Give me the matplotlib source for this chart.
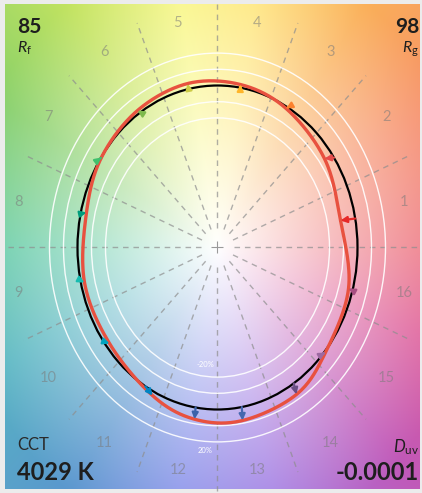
import numpy as np
import matplotlib
matplotlib.use('Agg')
import matplotlib.pyplot as plt
from matplotlib.patches import Ellipse, FancyArrowPatch

# ---------------- data ----------------
hue_bins = list(range(1, 17))
ref_hue_angle_deg = [10.3, 33.7, 59.8, 80.6, 101.9, 123.4, 146.4, 168.0,
                     191.7, 215.4, 239.0, 261.0, 280.0, 303.0, 319.0, 344.6]
test_x = [0.879, 0.764, 0.490, 0.164, -0.214, -0.571, -0.829, -0.936,
          -0.950, -0.771, -0.464, -0.164, 0.179, 0.564, 0.771, 0.936]
test_y = [0.167, 0.549, 0.858, 1.006, 1.012, 0.846, 0.556, 0.216,
          -0.216, -0.593, -0.914, -1.060, -1.068, -0.907, -0.648, -0.253]
bin_colors = ['#e62828', '#e74b4b', '#fb812e', '#ffb529', '#cbca46', '#7eb94c',
              '#41c06d', '#009c7c', '#16bcb0', '#00a4bf', '#0085c3', '#3b62aa',
              '#4568ae', '#6a4e85', '#9d69a1', '#a74f81']
circle_levels = [0.8, 0.9, 1.1, 1.2]
Rf_value = "85"
Rg_value = "98"
CCT_value = "4029 K"
Duv_value = "-0.0001"

# ---------------- layout ----------------
W, H = 422, 493
cx, cy = 217.5, 247.5      # centre in pixels
sx, sy = 140.0, 162.0      # pixels per unit radius
xlim = (-cx / sx, (W - cx) / sx)
ylim = ((cy - H) / sy, cy / sy)

plt.rcParams['font.family'] = ['Lato', 'DejaVu Sans']
plt.rcParams['mathtext.fontset'] = 'custom'
plt.rcParams['mathtext.it'] = 'Lato:italic'
plt.rcParams['mathtext.rm'] = 'Lato'
plt.rcParams['axes.unicode_minus'] = False

fig = plt.figure(figsize=(W / 100, H / 100), dpi=100, facecolor='#ececec')
ax = fig.add_axes([0, 0, 1, 1])
ax.set_xlim(*xlim)
ax.set_ylim(*ylim)
ax.axis('off')

# ---------------- background hue gradient ----------------
anchor_ang = [0, 30, 55, 80, 100, 125, 150, 180, 205, 235, 260, 285, 315, 340, 360]
anchor_rgb = np.array([
    (236, 105, 118), (246, 138, 98), (250, 172, 80), (255, 228, 110),
    (248, 246, 120), (192, 226, 88), (128, 205, 98), (90, 200, 160),
    (78, 178, 190), (82, 145, 204), (125, 135, 232), (155, 115, 225),
    (190, 80, 180), (220, 82, 145), (236, 105, 118)]) / 255.0

px0, px1, py0, py1 = 5, 420, 4, 489
nxg = np.linspace((px0 - cx) / sx, (px1 - cx) / sx, 420)
nyg = np.linspace((cy - py0) / sy, (cy - py1) / sy, 490)
XX, YY = np.meshgrid(nxg, nyg)
ang = np.degrees(np.arctan2(YY, XX)) % 360
rr = np.hypot(XX, YY)
full = np.stack([np.interp(ang, anchor_ang, anchor_rgb[:, k]) for k in range(3)], axis=-1)
s = 0.95 * np.clip(rr / 1.85, 0, 1) ** 0.95
img = 1 - s[..., None] * (1 - full)
ax.imshow(img, extent=((px0 - cx) / sx, (px1 - cx) / sx, (cy - py1) / sy, (cy - py0) / sy),
          origin='upper', interpolation='bilinear', aspect='auto', zorder=0)

# ---------------- dashed hue-bin dividers ----------------
for k in range(16):
    a = np.radians(k * 22.5)
    ax.plot([0.12 * np.cos(a), 1.5 * np.cos(a)], [0.12 * np.sin(a), 1.5 * np.sin(a)],
            color='#8e8e8e', lw=1.0, dashes=(4, 3.5), alpha=0.7, zorder=1)
ax.plot([0], [0], marker='+', color='#9a9a9a', ms=9, mew=0.8, zorder=1)

# ---------------- white percentage circles ----------------
for lev in circle_levels:
    ax.add_patch(Ellipse((0, 0), 2 * lev, 2 * lev, fill=False, ec='white',
                         lw=1.0, alpha=0.9, zorder=2))
ax.text(-0.09, -0.72, '-20%', color='white', fontsize=5.5, ha='center', va='center', zorder=2)
ax.text(-0.09, -1.255, '20%', color='white', fontsize=5.5, ha='center', va='center', zorder=2)

# ---------------- reference circle ----------------
ax.add_patch(Ellipse((0, 0), 2, 2, fill=False, ec='black', lw=1.6, zorder=3))

# ---------------- test curve (closed Catmull-Rom through test points) ----------------
P = np.column_stack([test_x, test_y])
n = len(P)
curve = []
for i in range(n):
    p0, p1, p2, p3 = P[(i - 1) % n], P[i], P[(i + 1) % n], P[(i + 2) % n]
    t = np.linspace(0, 1, 30, endpoint=False)[:, None]
    seg = 0.5 * ((2 * p1) + (-p0 + p2) * t + (2 * p0 - 5 * p1 + 4 * p2 - p3) * t ** 2
                 + (-p0 + 3 * p1 - 3 * p2 + p3) * t ** 3)
    curve.append(seg)
curve = np.vstack(curve + [curve[0][:1]])
ax.plot(curve[:, 0], curve[:, 1], color='#e8513f', lw=2.4, zorder=4,
        solid_capstyle='round')

# ---------------- arrows ----------------
for i in range(n):
    a = np.radians(ref_hue_angle_deg[i])
    start = (np.cos(a), np.sin(a))
    end = (test_x[i], test_y[i])
    ax.add_patch(FancyArrowPatch(start, end, arrowstyle='-|>', mutation_scale=9,
                                 lw=1.6, color=bin_colors[i], shrinkA=0, shrinkB=0,
                                 zorder=5))

# ---------------- hue bin numbers ----------------
lr = 1.45
for i, b in enumerate(hue_bins):
    a = np.radians((i + 0.5) * 22.5)
    lx = np.clip(lr * np.cos(a), xlim[0] + 0.13, xlim[1] - 0.13)
    ly = np.clip(lr * np.sin(a), ylim[0] + 0.14, ylim[1] - 0.14)
    ax.text(lx, ly, str(b), fontsize=10.5, color='#7a7a7a', alpha=0.55,
            ha='center', va='center', zorder=2)

# ---------------- corner texts ----------------
def ftext(px, py, txt, **kw):
    fig.text(px / W, 1 - py / H, txt, **kw)

ftext(17, 33, Rf_value, fontsize=15, fontweight='bold', color='#1e1e1e', ha='left', va='baseline')
ftext(17, 53, r'$R_\mathrm{f}$', fontsize=11.5, color='#1e1e1e', ha='left', va='baseline')
ftext(419, 33, Rg_value, fontsize=15, fontweight='bold', color='#1e1e1e', ha='right', va='baseline')
ftext(419, 53, r'$R_\mathrm{g}$', fontsize=11.5, color='#1e1e1e', ha='right', va='baseline')
ftext(17, 450, 'CCT', fontsize=12, color='#2a2a2a', ha='left', va='baseline')
ftext(17, 480, CCT_value, fontsize=17, fontweight='bold', color='#1e1e1e', ha='left', va='baseline')
ftext(419, 452, r'$D_\mathrm{uv}$', fontsize=12, color='#1e1e1e', ha='right', va='baseline')
ftext(419, 480, Duv_value, fontsize=17, fontweight='bold', color='#1e1e1e', ha='right', va='baseline')

fig.savefig('out.png', dpi=100, facecolor=fig.get_facecolor())
